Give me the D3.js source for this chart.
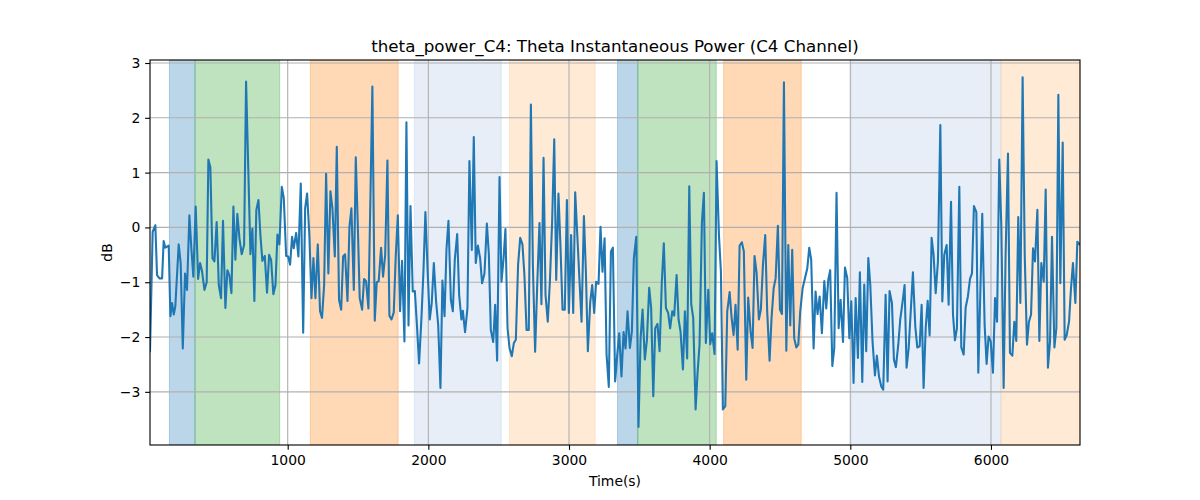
<!DOCTYPE html>
<html>
<head>
<meta charset="utf-8">
<script src="https://cdn.jsdelivr.net/npm/d3@7"></script>
<style>
html,body{margin:0;padding:0;background:#fff;}
svg text{font-family:"DejaVu Sans",sans-serif;}
</style>
</head>
<body>
<div id="chart"></div>
<script>
const chartTitle = "theta_power_C4: Theta Instantaneous Power (C4 Channel)";
const xLabel = "Time(s)";
const yLabel = "dB";
const xTicks = [1000, 2000, 3000, 4000, 5000, 6000];
const yTicks = [-3, -2, -1, 0, 1, 2, 3];
const xDomain = [21, 6633];
const yDomain = [-3.97, 3.055];

const spanStarts = [159, 341, 1161, 1901, 2577, 3345, 3489, 4099, 5007, 6071];
const spanEnds   = [341, 943, 1785, 2518, 3186, 3489, 4047, 4651, 6071, 6633];
const spanKinds  = ["blueDark","green","orangeDark","blueLight","orangeLight","blueDark","green","orangeDark","blueLight","orangeLight"];

const times = [21,40,59,71,88,107,118,130,142,154,166,178,190,201,225,239,254,270,284,301,315,329,346,363,377,391,408,424,436,450,465,479,495,510,526,540,557,571,585,600,614,628,642,657,673,690,704,735,749,763,777,792,806,820,837,853,868,882,898,913,927,941,958,972,989,1003,1017,1031,1043,1060,1076,1093,1110,1124,1138,
1154,1169,1183,1197,1214,1230,1244,1259,1273,1289,1304,1318,1335,1349,1365,1380,1394,1408,1425,1439,1453,1470,1484,1498,1512,1529,1543,1557,1574,1588,1602,1619,1633,1647,1664,1678,1693,1709,1723,1738,1754,1768,1783,1799,1813,1830,1844,1859,1873,1889,1904,1920,1934,1951,1965,1979,1996,2010,2024,2039,2055,2070,2086,2100,2115,2129,2143,2160,2174,2188,2205,2219,2235,
2245,2261,2278,2292,2309,2323,2337,2352,2368,2382,2399,2416,2430,2444,2461,2475,2489,2506,2520,2534,2548,2563,2577,2593,2608,2622,2638,2653,2669,2683,2698,2714,2729,2743,2759,2774,2790,2804,2819,2833,2849,2864,2880,2895,2909,2925,2939,2954,2970,2985,2999,3015,3030,3044,3060,3075,3089,3106,3120,3134,3151,3165,3179,3193,3210,3224,3238,3253,3267,3283,3298,3312,3328,3343,3357,3373,3388,3402,3416,
3433,3447,3461,3478,3494,3509,3523,3539,3554,3570,3584,3599,3613,3629,3644,3660,3674,3689,3705,3719,3734,3748,3765,3779,3793,3810,3824,3840,3855,3869,3883,3900,3914,3928,3945,3959,3973,3990,4004,4018,4035,4049,4066,4080,4094,4111,4125,4142,4156,4170,4184,4199,4213,4229,4243,4260,4274,4291,4305,4319,4334,4350,4364,4379,4395,4409,4426,4440,4455,4469,4485,4500,4514,4528,4545,4559,
4573,4587,4601,4616,4630,4644,4661,4677,4694,4708,4722,4739,4753,4767,4782,4798,4815,4829,4843,4857,4872,4886,4902,4917,4931,4948,4962,4978,4993,5007,5023,5038,5054,5068,5085,5099,5113,5128,5142,5158,5175,5189,5204,5220,5234,5251,5265,5279,5296,5310,5324,5341,5355,5372,5386,5400,5415,5431,5445,5462,5476,5493,5507,5521,5536,5550,5564,5578,5592,5607,5623,5640,5654,5668,5685,5699,
5716,5730,5744,5758,5775,5789,5806,5820,5836,5851,5865,5879,5896,5910,5924,5938,5955,5969,5983,5998,6014,6029,6043,6059,6074,6090,6104,6121,6135,6152,6166,6180,6194,6209,6225,6240,6256,6270,6285,6299,6313,6330,6344,6358,6375,6389,6405,6420,6434,6451,6465,6479,6493,6510,6524,6538,6555,6569,6583,6600,6614,6633];

const values = [-2.26,-0.08,0.04,-0.87,-0.93,-0.93,-0.25,-0.37,-0.35,-0.33,-1.62,-1.38,-1.59,-1.44,-0.31,-0.65,-2.21,-0.84,-1.14,0.22,-0.38,-0.9,0.38,-0.94,-0.65,-0.8,-1.14,-1.0,1.24,1.1,-0.56,-0.62,0.1,-1.05,-1.29,0.12,-1.47,-0.78,-0.87,-1.2,0.38,-0.59,0.25,-0.2,-0.49,-0.32,2.66,-0.49,-0.02,-1.34,0.32,0.5,-0.14,-0.61,-0.52,-1.19,-0.5,-0.59,-1.22,-1.05,-0.13,-0.31,0.74,0.54,-0.52,-0.53,-0.68,-0.17,-0.38,-0.1,-0.53,0.8,-1.92,0.35,0.62,
-0.14,-1.29,-0.56,-1.29,-0.31,-1.53,-1.65,-1.05,0.98,-0.84,0.66,0.35,-0.53,1.47,-1.32,-1.5,-0.53,-0.49,-1.34,0.01,0.35,-1.14,1.28,0.07,-1.29,-1.5,-0.94,-0.98,-1.48,0.53,2.57,-1.7,-1.0,-0.98,-0.37,-0.9,-0.5,1.22,-1.61,-1.68,-1.55,-0.53,0.22,-1.53,-0.61,-2.08,1.92,-1.79,0.39,-1.17,-1.16,-1.84,-2.48,-1.65,-0.81,0.28,-0.87,-1.68,-1.38,-0.65,-1.35,-1.78,-2.93,-0.97,-1.62,-0.39,0.12,-1.32,-1.53,-0.59,-0.12,-1.23,-1.68,
-1.52,-1.91,-1.47,1.21,-0.41,1.65,-0.65,-0.33,-0.56,-1.02,-0.84,0.07,-0.49,-1.87,-2.09,-1.41,-2.43,0.92,-0.99,-0.59,-0.03,-1.84,-2.2,-2.35,-2.11,-2.05,-0.68,-0.19,-0.31,-0.87,-1.87,-1.87,2.24,-0.68,-2.27,-1.05,0.08,-1.4,1.27,-1.23,-1.72,-0.99,0.1,1.61,-0.96,0.62,-0.32,-1.5,-1.5,0.5,-1.56,-0.14,-1.56,0.64,-0.2,-0.99,-1.72,0.21,-0.81,-2.26,-1.36,-1.05,-1.56,-0.99,-1.03,0.01,-0.81,-0.2,-2.32,-2.91,-0.44,-0.37,-2.81,-2.32,-1.93,-2.72,-1.91,-2.21,-1.53,
-2.2,-1.9,-0.56,-0.17,-3.64,-2.02,-1.5,-2.41,-2.05,-1.1,-1.47,-3.08,-1.84,-1.76,-2.26,-0.99,-0.29,-1.47,-1.56,-1.84,-1.53,-1.61,-0.87,-1.68,-1.9,-2.59,-1.53,-2.39,0.75,-1.4,-1.65,-3.32,-2.65,-2.14,0.1,0.63,-2.11,-1.14,-2.13,-1.93,-2.31,1.21,-0.14,-0.81,-3.32,-3.26,-1.53,-1.18,-1.65,-1.96,-1.41,-2.23,-0.33,-0.27,-0.44,-2.78,-1.28,-1.9,-2.2,-0.52,-0.84,-1.68,-1.5,-0.68,-0.14,-1.53,-2.43,-1.65,-1.11,-0.93,0.03,-1.5,-1.58,2.65,-2.25,-0.32,
-1.79,-0.41,-2.02,-2.19,-2.14,-1.53,-1.11,-0.93,-0.75,-0.37,-0.59,-2.21,-1.17,-1.58,-1.26,-1.93,-0.98,-1.48,-0.96,-0.78,-2.53,-2.2,0.63,-1.84,-1.32,-2.09,-0.73,-0.92,-2.02,-1.35,-2.84,-1.29,-2.38,-0.82,-2.82,-1.04,-2.26,-0.56,-1.05,-2.08,-2.7,-2.34,-2.72,-2.9,-2.96,-1.23,-2.81,-1.16,-1.38,-2.41,-2.55,-2.14,-1.68,-1.35,-1.05,-2.56,-2.2,-1.47,-0.82,-1.81,-2.19,-2.17,-1.41,-2.93,-1.84,-1.34,-1.97,-0.19,-0.5,-1.2,-0.62,1.87,-1.35,-0.5,-0.32,-1.41,
0.47,-1.59,-2.06,-1.84,0.74,-2.19,-2.32,-1.46,-1.26,-0.94,-0.84,0.39,0.28,-2.65,-1.23,0.25,-1.78,-2.49,-1.99,-2.08,-2.65,-1.29,-1.72,1.24,-0.02,-2.93,-0.5,1.35,-2.29,-2.34,-1.72,-2.07,0.19,-1.38,2.74,-0.5,-2.14,-1.72,-1.59,-0.38,-0.62,0.32,-2.07,-0.65,-0.99,0.69,-2.56,-2.08,-0.17,-2.19,-1.84,2.42,-1.02,1.55,-2.05,-1.97,-1.72,-1.11,-0.65,-1.38,-0.26,-0.31];

const spanStyle = {
  blueDark:   {color:"#1f77b4", opacity:0.3},
  green:      {color:"#2ca02c", opacity:0.3},
  orangeDark: {color:"#ff7f0e", opacity:0.3},
  blueLight:  {color:"#aec7e8", opacity:0.3},
  orangeLight:{color:"#ffbb78", opacity:0.3}
};

const W = 1200, H = 500;
const m = {left:150, right:120, top:60, bottom:55};
const iw = W - m.left - m.right, ih = H - m.top - m.bottom;
const pt = 100/72;

const svg = d3.select("#chart").append("svg").attr("width", W).attr("height", H);
const g = svg.append("g").attr("transform", `translate(${m.left},${m.top})`);

const x = d3.scaleLinear().domain(xDomain).range([0, iw]);
const y = d3.scaleLinear().domain(yDomain).range([ih, 0]);

g.append("defs").append("clipPath").attr("id","clip")
  .append("rect").attr("width", iw).attr("height", ih);

// spans
const spans = spanStarts.map((s,i)=>({s, e:spanEnds[i], k:spanKinds[i]}));
g.append("g").attr("clip-path","url(#clip)").selectAll("rect").data(spans).join("rect")
  .attr("x", d=>x(d.s)).attr("width", d=>x(d.e)-x(d.s))
  .attr("y", 0).attr("height", ih)
  .attr("fill", d=>spanStyle[d.k].color)
  .attr("fill-opacity", d=>spanStyle[d.k].opacity)
  .attr("stroke", d=>spanStyle[d.k].color)
  .attr("stroke-opacity", d=>spanStyle[d.k].opacity)
  .attr("stroke-width", 1);

// grid
g.append("g").selectAll("line").data(xTicks).join("line")
  .attr("x1", d=>x(d)).attr("x2", d=>x(d)).attr("y1",0).attr("y2",ih)
  .attr("stroke","#b0b0b0").attr("stroke-width",0.8*pt);
g.append("g").selectAll("line").data(yTicks).join("line")
  .attr("y1", d=>y(d)).attr("y2", d=>y(d)).attr("x1",0).attr("x2",iw)
  .attr("stroke","#b0b0b0").attr("stroke-width",0.8*pt);

// line
const pts = times.map((t,i)=>[t, values[i]]);
g.append("path").datum(pts).attr("clip-path","url(#clip)")
  .attr("fill","none").attr("stroke","#1f77b4").attr("stroke-width",1.5*pt)
  .attr("stroke-linejoin","round").attr("stroke-linecap","square")
  .attr("d", d3.line().x(d=>x(d[0])).y(d=>y(d[1])));

// axes
const xAxis = g.append("g").attr("transform",`translate(0,${ih})`)
  .call(d3.axisBottom(x).tickValues(xTicks).tickSize(3.5*pt).tickPadding(3.5*pt).tickFormat(d3.format("d")));
const yAxis = g.append("g")
  .call(d3.axisLeft(y).tickValues(yTicks).tickSize(3.5*pt).tickPadding(3.5*pt).tickFormat(d=>d<0?"\u2212"+Math.abs(d):String(d)));
[xAxis,yAxis].forEach(a=>{
  a.select(".domain").remove();
  a.selectAll(".tick line").attr("stroke","#000").attr("stroke-width",0.8*pt);
  a.selectAll(".tick text").attr("fill","#000").style("font-size","13.9px").style("font-family","DejaVu Sans");
});

// spines
g.append("rect").attr("width",iw).attr("height",ih).attr("fill","none")
  .attr("stroke","#000").attr("stroke-width",0.8*pt);

// labels
svg.append("text").attr("x", m.left+iw/2).attr("y", 52)
  .attr("text-anchor","middle").style("font-size","16.7px").text(chartTitle);
svg.append("text").attr("x", m.left+iw/2).attr("y", 486)
  .attr("text-anchor","middle").style("font-size","13.9px").text(xLabel);
svg.append("text").attr("transform",`translate(112,${m.top+ih/2}) rotate(-90)`)
  .attr("text-anchor","middle").style("font-size","13.9px").text(yLabel);
</script>
</body>
</html>
